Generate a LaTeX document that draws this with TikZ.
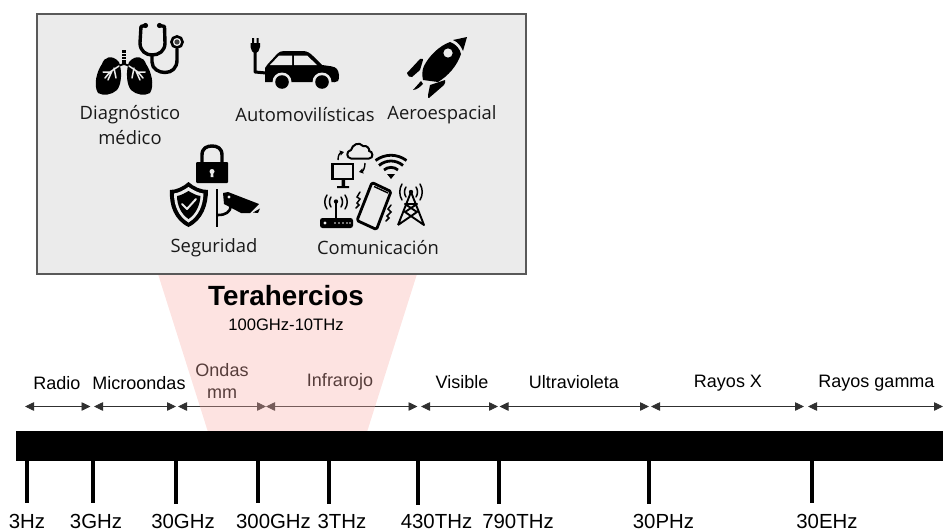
\documentclass[tikz,border=0pt]{standalone}
\usepackage{fontspec}
\setmainfont{Liberation Sans}
\newfontfamily\boxfont{Open Sans}
\usetikzlibrary{arrows.meta}
\definecolor{panelfill}{HTML}{EBEBEB}
\definecolor{panelline}{HTML}{595959}
\definecolor{beam}{HTML}{F9AFA9}
\definecolor{arrowline}{HTML}{303030}
\tikzset{
  panel/.style={draw=panelline,line width=1.5pt,fill=panelfill},
  beamshape/.style={fill=beam,fill opacity=.35,draw=none},
  barshape/.style={fill=black,draw=black,inner sep=0pt,minimum width=927pt,minimum height=29pt},
  tick/.style={line width=3.2pt,black},
  freq/.style={font=\fontsize{20.4}{22}\selectfont,inner sep=0pt,anchor=center},
  band/.style={font=\fontsize{18}{22}\selectfont,inner sep=0pt,anchor=center,align=center},
  span/.style={{Triangle[length=9pt,width=8.5pt]}-{Triangle[length=9pt,width=8.5pt]},line width=.8pt,arrowline},
  use/.style={font=\boxfont\fontsize{18.4}{25}\selectfont,inner sep=0pt,anchor=center,align=center,text=black!90},
  ic/.style={fill=black,draw=none},
  icw/.style={fill=panelfill,draw=none},
  tube/.style={draw=black,line width=3.4pt,fill=none,line cap=round,line join=round},
  thin/.style={draw=black,line width=1.5pt,fill=none,line cap=round},
  cut/.style={draw=panelfill,line width=1.5pt,fill=none,line cap=round,line join=round},
}
\begin{document}
\begin{tikzpicture}[x=1pt,y=-1pt]
\useasboundingbox (0,0) rectangle (943,530);
% band labels and arrows (under the translucent beam)
\foreach \n/\x in {a/25,b/90.5,c/94,d/176,e/178,f/266,g/417.5,h/421,i/498,j/499.5,k/649,l/651,m/804,n/808,o/943}
  {\coordinate (\n) at (\x,406.5);}
\draw[span] (a) -- (b);
\draw[span] (c) -- (d);
\draw[span] (e) -- (f);
\draw[span] (f) -- (g);
\draw[span] (h) -- (i);
\draw[span] (j) -- (k);
\draw[span] (l) -- (m);
\draw[span] (n) -- (o);
\node[band] (radio) at (57,383) {Radio};
\node[band] (micro) at (139,383) {Microondas};
\node[band] (ondas) at (222,381) {Ondas\\mm};
\node[band] (infra) at (340,382) {Infrarojo};
\node[band] (visible) at (462,382) {Visible};
\node[band] (ultra) at (574,382) {Ultravioleta};
\node[band] (rayosx) at (728,383) {Rayos X};
\node[band] (gamma) at (876.5,383) {Rayos gamma};
% beam
\fill[beamshape] (158,274) -- (417,274) -- (367,432) -- (208,432) -- cycle;
% bar
\node[barshape] (bar) at (479.5,445.5) {};
% ticks
\foreach \n/\x/\e/\lab/\lx in {1/27/503/3Hz/27,2/93/503/3GHz/96,3/176/504/30GHz/183,4/258/503/300GHz/273.5,5/329/504/3THz/342,6/418/505/430THz/436.5,7/499/504/790THz/518,8/649/504/30PHz/663.5,9/812/503/30EHz/827}{
  \coordinate (t\n a) at (\x,460);
  \coordinate (t\n b) at (\x,\e);
  \node[freq] (f\n) at (\lx,521) {\lab};
  \draw[tick] (t\n a) -- (t\n b);
}
% titles
\node[inner sep=0pt,font=\fontsize{27.8}{28}\selectfont\bfseries] (thz) at (286,296) {Terahercios};
\node[inner sep=0pt,font=\fontsize{16.6}{18}\selectfont] (thzr) at (286,325) {100GHz-10THz};
% panel
\draw[panel] (37,14) rectangle (526,274);
\node[use] (diag) at (130,125.5) {Diagnóstico\\médico};
\node[use] (auto) at (305,115) {Automovilísticas};
\node[use] (aero) at (442,115) {Aeroespacial};
\node[use] (seg) at (214,248) {Seguridad};
\node[use] (com) at (378,248) {Comunicación};
% --- lungs
\fill[ic] (119,62) .. controls (112,54) and (104,57) .. (102,64) .. controls (97,71) and (93,85) .. (98,93) .. controls (103,96) and (112,95) .. (117,90) .. controls (122,84) and (122,70) .. (119,62) -- cycle;
\fill[ic] (129,62) .. controls (136,54) and (144,57) .. (146,64) .. controls (151,71) and (155,85) .. (150,93) .. controls (145,96) and (136,95) .. (131,90) .. controls (126,84) and (126,70) .. (129,62) -- cycle;
\draw[black,line width=3.5pt] (124,50) -- (124,64);
\draw[panelfill,line width=.7pt] (122,53) -- (126,53) (122,56) -- (126,56) (122,59) -- (126,59);
\draw[black,line width=1.8pt] (124,64) -- (118,66) (124,64) -- (130,66);
\draw[cut,line width=1.5pt] (119,66) -- (110,72) -- (103,72) (112,71) -- (108,80) (114,68) -- (116,78) (110,72) -- (105,78);
\draw[cut,line width=1.5pt] (129,66) -- (138,72) -- (145,72) (136,71) -- (140,80) (134,68) -- (132,78) (138,72) -- (143,78);
% --- stethoscope
\draw[tube] (145,25.5) -- (141,26.5) -- (140,43) .. controls (140,51) and (146,55) .. (152,55) .. controls (159,55) and (165,51) .. (165,43) -- (164.5,26.5) -- (160,25.5);
\fill[ic] (145.5,25.5) circle (2.6) (159.5,25.5) circle (2.6);
\draw[tube] (152,55) -- (152,62) .. controls (152,69) and (159,72.5) .. (165,72.5) .. controls (172,72.5) and (177,68) .. (177,60) -- (177,49);
\draw[black,line width=2.6pt] (177,42) circle (5.6);
\fill[black!75] (177,42) circle (2.6);
% --- car with plug
\fill[ic] (265,82) -- (265,68) .. controls (268,63) and (273,59) .. (277,54) .. controls (279,52) and (281,51) .. (284,51) -- (303,51) .. controls (307,51) and (310,53) .. (313,56) -- (322,65) .. controls (328,66) and (335,66) .. (337,69) .. controls (339,72) and (340,78) .. (338,81) .. controls (336,83) and (332,82) .. (332,82) -- cycle;
\fill[icw] (270,65) -- (279,55.5) -- (292,55.5) -- (292,65) -- cycle (294,55.5) -- (307,55.5) -- (317,65) -- (294,65) -- cycle;
\fill[icw] (282,82) circle (9.5) (322,82) circle (9.5);
\fill[ic] (282,82) circle (6.8) (322,82) circle (6.8);
\draw[black,line width=3pt,line join=round] (255,50) -- (255,72) -- (266,73);
\fill[ic] (250.5,43) -- (260,43) -- (260,47) .. controls (260,50) and (257.5,53) .. (255.2,53) .. controls (253,53) and (250.5,50) .. (250.5,47) -- cycle;
\fill[ic] (252,38) rectangle (254,43) (256.5,38) rectangle (258.5,43);
% --- rocket
\fill[ic] (453,40) -- (467,37) -- (463,51) .. controls (461,46) and (458,42) .. (453,40) -- cycle;
\fill[ic] (450,42) .. controls (456,44) and (460,49) .. (461,54) .. controls (457,66) and (448,76) .. (438,82) -- (423,80) .. controls (422,75) and (422,70) .. (424,66) .. controls (429,56) and (439,46) .. (450,42) -- cycle;
\fill[icw] (448,53) circle (4.6);
\fill[ic] (407,73) -- (420,59) .. controls (422,58) and (424,59) .. (423,60) -- (420,70) -- (412,77) .. controls (410,78) and (408,76) .. (407,73) -- cycle;
\fill[ic] (430,85) -- (445,80) .. controls (446,81) and (445,83) .. (444,85) -- (429,98) .. controls (428,99) and (428,97) .. (428,95) -- cycle;
\fill[ic] (413,90) -- (421,81) -- (423,84) .. controls (421,86) and (417,90) .. (413,90) -- cycle;
% --- lock
\draw[black,line width=3.4pt] (202,163) -- (202,155) .. controls (202,148) and (207,146) .. (212,146) .. controls (217,146) and (222,148) .. (222,155) -- (222,163);
\fill[ic,rounded corners=1pt] (196,162) rectangle (228,183);
\fill[icw] (212,171.5) circle (2.5);
\fill[icw] (211,172) -- (213,172) -- (213.5,177) -- (210.5,177) -- cycle;
% --- shield
\fill[ic] (188.5,182) .. controls (183,187) and (176,190) .. (170,190) .. controls (169,205) and (174,220) .. (188.5,227) .. controls (203,220) and (208,205) .. (208,190) .. controls (201,190) and (194,187) .. (188.5,182) -- cycle;
\fill[icw] (188.5,187) .. controls (184,190) and (179,193) .. (174,193.5) .. controls (174,205) and (178,216) .. (188.5,222.5) .. controls (199,216) and (203,205) .. (203.5,193.5) .. controls (198,193) and (193,190) .. (188.5,187) -- cycle;
\fill[ic] (188.5,191) .. controls (185,193) and (181,195.5) .. (177,196) .. controls (177,205) and (181,214) .. (188.5,219) .. controls (196,214) and (200,205) .. (200.5,196) .. controls (196,195.5) and (192,193) .. (188.5,191) -- cycle;
\draw[draw=panelfill,line width=2pt,line cap=round,line join=round] (182,204) -- (187,209) -- (196,199);
% --- camera
\draw[black,line width=2.6pt] (217,189) -- (217,227);
\draw[black,line width=2.6pt] (218,215) .. controls (226,215) and (230,212) .. (231,206);
\fill[ic] (223,193) -- (228,192) -- (259,204) -- (254,209) -- (250,213) -- (241,213) -- (224,204) -- cycle;
\fill[icw] (229,197) circle (1.6);
\fill[ic] (253,212.5) -- (260,208.5) -- (258,213) -- cycle;
% --- monitor
\draw[black,line width=2.4pt] (332.5,164) rectangle (353,179);
\fill[ic] (341.5,180) rectangle (345,186) (337,186) rectangle (349,188);
% --- cloud
\draw[black,line width=2pt,line join=round] (351,158.5) .. controls (346,158) and (346,151) .. (351,150) .. controls (352,145) and (359,141) .. (363,146) .. controls (367,145) and (370,149) .. (369,151) .. controls (373,151) and (374,158.5) .. (369,158.5) -- cycle;
\draw[-{Triangle[length=4pt,width=5pt]},black,line width=1.4pt] (338,160) .. controls (338,155) and (340,153) .. (344,152);
\draw[-{Triangle[length=4pt,width=5pt]},black,line width=1.4pt] (365,163) .. controls (365,168) and (363,171) .. (359,172);
% --- wifi
\fill[ic] (391,179) -- (387,174) -- (395,174) -- cycle;
\draw[black,line width=2.8pt] (384,170) .. controls (388,166.5) and (394,166.5) .. (398,170);
\draw[black,line width=2.8pt] (379,165.5) .. controls (386,159.5) and (396,159.5) .. (403,165.5);
\draw[black,line width=2.8pt] (375.5,160.5) .. controls (385,153.5) and (397,153.5) .. (406.5,160.5);
% --- phone
\draw[black,line width=2.8pt,line join=round,rounded corners=1.5pt] (372,182.5) -- (391,191.5) -- (376.5,229.5) -- (357,220.5) -- cycle;
\draw[black,line width=1.4pt] (374,186.5) -- (388,193);
\draw[thin] (360,192) -- (357,197) -- (360,199) -- (357,203) -- (359,205) -- (356,208);
\draw[thin] (391,205) -- (388,209) -- (391,212) -- (387,216) -- (389,218) -- (386,221);
% --- router
\fill[ic,rounded corners=2.5pt] (320,218) rectangle (353,228);
\foreach \dx in {335,339,343,347,350}{\fill[icw] (\dx,223) circle (.8);}
\fill[icw] (325,223) circle (1.6);
\draw[black,line width=1.8pt] (336,202) -- (336,218);
\fill[ic] (336,201.5) circle (2.2);
\draw[thin] (331,197) .. controls (329,200) and (329,204) .. (331,207);
\draw[thin] (341,197) .. controls (343,200) and (343,204) .. (341,207);
\draw[thin] (327,195) .. controls (324,199) and (324,205) .. (327,209);
\draw[thin] (345,195) .. controls (348,199) and (348,205) .. (345,209);
% --- tower
\fill[ic] (411,192) circle (2.2);
\draw[black,line width=1.9pt,line join=round] (398,225) -- (411,192) -- (424,225) -- (405,212) -- (417,204) -- (405,204) -- (417,212) -- (398,225);
\draw[thin] (406,187) .. controls (404,190) and (404,194) .. (406,197);
\draw[thin] (416,187) .. controls (418,190) and (418,194) .. (416,197);
\draw[thin] (402,184) .. controls (399,189) and (399,195) .. (402,200);
\draw[thin] (420,184) .. controls (423,189) and (423,195) .. (420,200);
\end{tikzpicture}
\end{document}
